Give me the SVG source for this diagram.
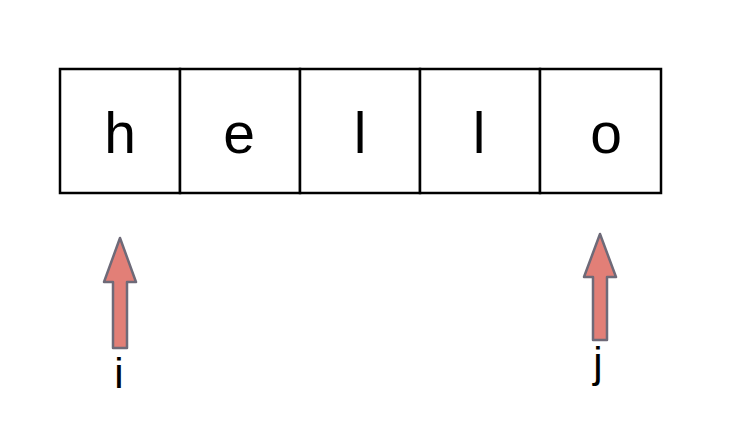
<svg xmlns="http://www.w3.org/2000/svg" width="730" height="438" viewBox="0 0 730 438">
<style>
.cell{fill:#fff;stroke:#000;stroke-width:2.5}
.ch{font-family:"Liberation Sans",Arial,sans-serif;font-size:57px;fill:#000;text-anchor:middle}
.lbl{font-family:"Liberation Sans",Arial,sans-serif;font-size:42px;fill:#000;text-anchor:middle}
.arrow{fill:#e27f77;stroke:#6e6a78;stroke-width:2.5;stroke-linejoin:round}
</style>
<rect width="730" height="438" fill="#fff"/>
<g id="cell-0"><rect class="cell" x="60" y="69" width="120" height="124"/><text class="ch" x="120" y="153">h</text></g>
<g id="cell-1"><rect class="cell" x="180" y="69" width="120" height="124"/><text class="ch" x="239" y="153">e</text></g>
<g id="cell-2"><rect class="cell" x="300" y="69" width="120" height="124"/><text class="ch" x="360" y="153">l</text></g>
<g id="cell-3"><rect class="cell" x="420" y="69" width="120" height="124"/><text class="ch" x="479" y="153">l</text></g>
<g id="cell-4"><rect class="cell" x="540" y="69" width="121" height="124"/><text class="ch" x="606" y="153">o</text></g>
<g id="connectors">
<path class="arrow" d="M120,238 L136,282 L127,282 L127,348 L113,348 L113,282 L104,282 Z"/>
<path class="arrow" d="M600,234 L616,277 L607,277 L607,340 L593,340 L593,277 L584,277 Z"/>
</g>
<g id="label-i"><text class="lbl" x="119" y="388">i</text></g>
<g id="label-j"><text class="lbl" x="598" y="377">j</text></g>
</svg>
